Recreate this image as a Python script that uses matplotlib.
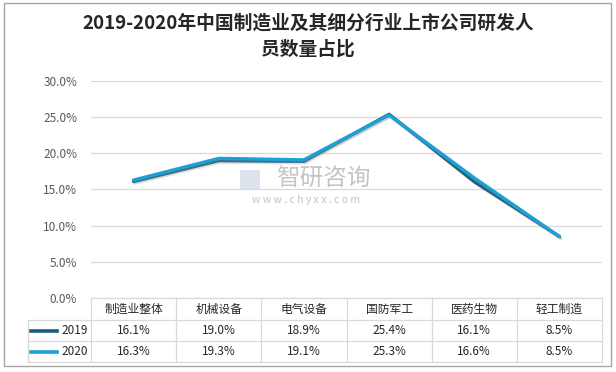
import matplotlib
matplotlib.use("Agg")
import matplotlib.pyplot as plt
import matplotlib.patheffects as pe
from matplotlib.lines import Line2D
from matplotlib.patches import Rectangle
from matplotlib.ticker import FuncFormatter

plt.rcParams['font.family'] = ['Noto Sans CJK SC', 'DejaVu Sans']

# --- données ---
categories = ["制造业整体", "机械设备", "电气设备", "国防军工", "医药生物", "轻工制造"]
series_names = ["2019", "2020"]
values_2019 = [16.1, 19.0, 18.9, 25.4, 16.1, 8.5]
values_2020 = [16.3, 19.3, 19.1, 25.3, 16.6, 8.5]
colors = ["#1B5C7E", "#1BA1D4"]
title = "2019-2020年中国制造业及其细分行业上市公司研发人\n员数量占比"

W, H = 616, 372
fig = plt.figure(figsize=(W / 100, H / 100), dpi=100)

# zone du graphique (en pixels)
x0, x1 = 91, 602
y_top, y_bot = 81, 298
ax = fig.add_axes([x0 / W, 1 - y_bot / H, (x1 - x0) / W, (y_bot - y_top) / H])

xs = list(range(len(categories)))
for vals, col in zip([values_2019, values_2020], colors):
    ax.plot(xs, vals, color=col, lw=2.4, solid_capstyle="round", zorder=3,
            path_effects=[pe.SimpleLineShadow(offset=(0.8, -1.2), shadow_color="#999999", alpha=0.3),
                          pe.Normal()])

ax.set_xlim(-0.5, len(categories) - 0.5)
ax.set_ylim(0, 30)
ax.set_yticks(range(0, 31, 5))
ax.yaxis.set_major_formatter(FuncFormatter(lambda v, p: f"{v:.1f}%"))
ax.tick_params(axis="y", length=0, pad=10, labelsize=8.5, labelcolor="#595959")
ax.set_xticks([])
ax.grid(axis="y", color="#D9D9D9", lw=0.9)
ax.set_axisbelow(True)
for s in ax.spines.values():
    s.set_visible(False)

# filigrane (logo simplifié + texte)
ax.add_patch(Rectangle((240 / W, 1 - 190 / H), 20 / W, 20 / H, transform=fig.transFigure,
                       facecolor="#D5DCE8", edgecolor="none", alpha=0.8, zorder=1))
fig.text(323 / W, 1 - 179 / H, "智研咨询", fontsize=17, color="#C4C4C4", ha="center", va="center",
         zorder=0)
fig.text(306 / W, 1 - 200 / H, "w w w . c h y x x . c o m", fontsize=7.5, color="#C4C4C4",
         ha="center", va="center", zorder=0)

# titre
fig.text(308 / W, 1 - 36 / H, title, fontsize=13.5, fontweight="bold", color="#262626",
         ha="center", va="center", linespacing=1.45)

# --- tableau de données ---
grid_col = "#D9D9D9"
left_t = 28
col_w = (x1 - x0) / len(categories)
rows_y = [298, 320, 341, 362]


def hline(y, xa, xb):
    fig.add_artist(Line2D([xa / W, xb / W], [1 - y / H, 1 - y / H], color=grid_col, lw=0.9))


def vline(x, ya, yb):
    fig.add_artist(Line2D([x / W, x / W], [1 - ya / H, 1 - yb / H], color=grid_col, lw=0.9))


hline(rows_y[0], x0, x1)
for y in rows_y[1:]:
    hline(y, left_t, x1)
vline(left_t, rows_y[1], rows_y[3])
for i in range(len(categories) + 1):
    vline(x0 + i * col_w, rows_y[0], rows_y[3])

for i, cat in enumerate(categories):
    cx = x0 + (i + 0.5) * col_w
    fig.text(cx / W, 1 - (rows_y[0] + rows_y[1]) / 2 / H, cat, fontsize=8.5, color="#262626",
             ha="center", va="center")

for r, (name, vals, col) in enumerate(zip(series_names, [values_2019, values_2020], colors)):
    cy = 1 - (rows_y[r + 1] + rows_y[r + 2]) / 2 / H
    fig.add_artist(Line2D([31 / W, 57 / W], [cy, cy], color=col, lw=2.6))
    fig.text(88 / W, cy, name, fontsize=8.5, color="#262626", ha="right", va="center")
    for i, v in enumerate(vals):
        cx = x0 + (i + 0.5) * col_w
        fig.text(cx / W, cy, f"{v:.1f}%", fontsize=8.5, color="#262626", ha="center", va="center")

# cadre extérieur
fig.add_artist(Rectangle((4 / W, 1 - 366 / H), (611 - 4) / W, (366 - 3) / H, fill=False,
                         edgecolor="#A6A6A6", lw=1))

fig.savefig("out.png", dpi=100)
